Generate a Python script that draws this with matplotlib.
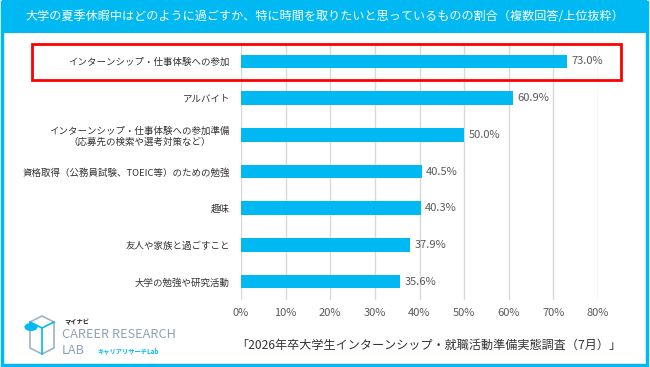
import matplotlib
matplotlib.use("Agg")
import matplotlib.pyplot as plt
from matplotlib.patches import Rectangle, Circle, Polygon
from matplotlib.lines import Line2D

plt.rcParams["font.family"] = ["Noto Sans CJK JP", "DejaVu Sans"]

title = "大学の夏季休暇中はどのように過ごすか、特に時間を取りたいと思っているものの割合（複数回答/上位抜粋）"
source = "「2026年卒大学生インターンシップ・就職活動準備実態調査（7月）」"

categories = [
    "インターンシップ・仕事体験への参加",
    "アルバイト",
    "インターンシップ・仕事体験への参加準備\n（応募先の検索や選考対策など）",
    "資格取得（公務員試験、TOEIC等）のための勉強",
    "趣味",
    "友人や家族と過ごすこと",
    "大学の勉強や研究活動",
]
values = [73.0, 60.9, 50.0, 40.5, 40.3, 37.9, 35.6]
xticks = [0, 10, 20, 30, 40, 50, 60, 70, 80]

cyan = "#00B9F2"
W, H = 650, 367

fig = plt.figure(figsize=(6.5, 3.67), dpi=100)


def fx(px):
    return px / W


def fy(py):
    return 1 - py / H


# outer frame and title band
fig.patches.append(Rectangle((fx(2), fy(365)), fx(645), 363 / H, transform=fig.transFigure,
                             fill=False, edgecolor=cyan, linewidth=2.5))
fig.patches.append(Rectangle((fx(2), fy(33)), fx(645), 33 / H, transform=fig.transFigure,
                             facecolor=cyan, edgecolor="none"))
fig.text(0.5, fy(17), title, color="white", fontsize=8.7, ha="center", va="center")

ax = fig.add_axes([fx(241), fy(300), fx(598) - fx(241), (300 - 43) / H])
y = list(range(len(categories)))
ax.barh(y, values, height=0.37, color=cyan, zorder=3)
ax.set_xlim(0, 80)
ax.set_ylim(len(categories) - 0.5, -0.5)
ax.set_xticks(xticks)
ax.set_xticklabels([f"{t}%" for t in xticks], color="#595959", fontsize=8)
ax.set_yticks(y)
ax.set_yticklabels(categories, color="#333333", fontsize=6.8, multialignment="center")
ax.tick_params(axis="both", length=0)
ax.tick_params(axis="x", pad=6)
ax.tick_params(axis="y", pad=8)
ax.grid(axis="x", color="#D9D9D9", linewidth=1, zorder=0)
for s in ax.spines.values():
    s.set_visible(False)

for yi, v in zip(y, values):
    ax.text(v + 1.0, yi, f"{v:.1f}%", va="center", ha="left", color="#595959", fontsize=8)

# highlight box around the top item
fig.patches.append(Rectangle((fx(32), fy(80)), fx(621) - fx(32), 36 / H, transform=fig.transFigure,
                             fill=False, edgecolor="#FF0000", linewidth=2))

fig.text(fx(429), fy(345), source, color="#333333", fontsize=8.7, ha="center", va="center")

# logo
gray = "#8FA3B5"
cube = [(30, 322), (42, 316), (54, 322), (54, 348), (42, 354), (30, 348)]
fig.patches.append(Polygon([(fx(a), fy(b)) for a, b in cube], closed=True, fill=False,
                           edgecolor="#9DB4C6", linewidth=1.2, transform=fig.transFigure))
for (a, b), (c, d) in [((30, 322), (42, 328)), ((42, 328), (54, 322)), ((42, 328), (42, 354))]:
    fig.add_artist(Line2D([fx(a), fx(c)], [fy(b), fy(d)], color=cyan, linewidth=1.2,
                          transform=fig.transFigure))
fig.patches.append(Circle((fx(31), fy(327)), 0.009, transform=fig.transFigure, color=cyan))
fig.text(fx(64), fy(322), "マイナビ", fontsize=4.5, fontweight="bold", color="#222222", va="center")
fig.text(fx(62), fy(335), "CAREER RESEARCH", fontsize=9.2, color=gray, va="center")
fig.text(fx(62), fy(350), "LAB", fontsize=9.2, color=gray, va="center")
fig.text(fx(97), fy(351), "キャリアリサーチLab", fontsize=4.5, fontweight="bold", color=cyan, va="center")

fig.savefig("out.png", dpi=100)
